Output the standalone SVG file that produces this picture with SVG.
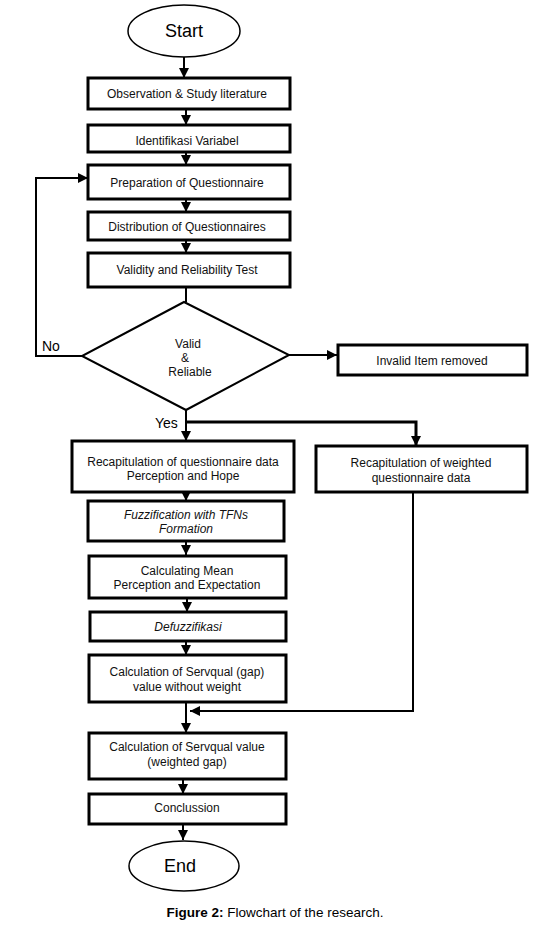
<svg xmlns="http://www.w3.org/2000/svg" width="560" height="927" viewBox="0 0 560 927">
<defs>
<marker id="ah" markerUnits="userSpaceOnUse" markerWidth="11" markerHeight="11" refX="10" refY="5" orient="auto">
<path d="M0,0 L10,5 L0,10 z" fill="#000"/>
</marker>
<style>
.box{fill:#fff;stroke:#000;stroke-width:3}
.term{fill:#fff;stroke:#000;stroke-width:1.5}
.dia{fill:#fff;stroke:#000;stroke-width:2}
.t{font-family:"Liberation Sans",Arial,sans-serif;font-size:12px;fill:#111;text-anchor:middle}
.i{font-style:italic}
.big{font-family:"Liberation Sans",Arial,sans-serif;font-size:18px;fill:#000;text-anchor:middle}
.lbl{font-family:"Liberation Sans",Arial,sans-serif;font-size:14px;fill:#000}
.c{fill:none;stroke:#000;stroke-width:2}
.ca{fill:none;stroke:#000;stroke-width:2;marker-end:url(#ah)}
.thick{stroke-width:3}
</style>
</defs>
<rect width="560" height="927" fill="#fff"/>
<g id="connectors">
<line class="ca" x1="184" y1="57" x2="184" y2="78"/>
<line class="ca" x1="186" y1="109" x2="186" y2="125"/>
<line class="ca" x1="186" y1="152" x2="186" y2="165"/>
<line class="ca" x1="186" y1="199" x2="186" y2="212"/>
<line class="ca" x1="186" y1="240" x2="186" y2="253"/>
<line class="c" x1="186" y1="287" x2="186" y2="302"/>
<line class="ca" x1="289" y1="355" x2="337" y2="355"/>
<polyline class="ca" points="82,356 36,356 36,178 88,178"/>
<polyline class="ca" points="186,410 186,441"/>
<polyline class="ca thick" points="186,422 416,422 416,446"/>
<line class="ca" x1="186" y1="492" x2="186" y2="501"/>
<line class="ca" x1="186" y1="541" x2="186" y2="555"/>
<line class="ca" x1="187" y1="598" x2="187" y2="612"/>
<line class="ca" x1="186" y1="641" x2="186" y2="655"/>
<line class="ca" x1="186" y1="702" x2="186" y2="733"/>
<polyline class="ca" points="413,492 413,711 190,711"/>
<line class="ca" x1="183" y1="779" x2="183" y2="794"/>
<line class="ca" x1="183" y1="824" x2="183" y2="840"/>
</g>
<g id="start">
<ellipse class="term" cx="184" cy="31" rx="56" ry="26"/>
<text class="big" x="184" y="37">Start</text>
</g>
<g id="observation">
<rect class="box" x="88" y="78" width="202" height="31"/>
<text class="t" x="187" y="98">Observation &amp; Study literature</text>
</g>
<g id="identifikasi">
<rect class="box" x="88" y="125" width="202" height="27"/>
<text class="t" x="187" y="145">Identifikasi Variabel</text>
</g>
<g id="preparation">
<rect class="box" x="88" y="165" width="202" height="34"/>
<text class="t" x="187" y="187">Preparation of Questionnaire</text>
</g>
<g id="distribution">
<rect class="box" x="88" y="212" width="202" height="28"/>
<text class="t" x="187" y="231">Distribution of Questionnaires</text>
</g>
<g id="validity">
<rect class="box" x="88" y="253" width="202" height="34"/>
<text class="t" x="187" y="274">Validity and Reliability Test</text>
</g>
<g id="decision">
<polygon class="dia" points="184,302 289,355 186,410 82,356"/>
<text class="t" x="188" y="348">Valid</text>
<text class="t" x="185" y="362">&amp;</text>
<text class="t" x="190" y="376">Reliable</text>
</g>
<g id="labels">
<text class="lbl" x="42" y="351">No</text>
<text class="lbl" x="155" y="428">Yes</text>
</g>
<g id="invalid">
<rect class="box" x="338" y="345" width="189" height="30"/>
<text class="t" x="432" y="365">Invalid Item removed</text>
</g>
<g id="recap">
<rect class="box" x="72" y="441" width="222" height="51"/>
<text class="t" x="183" y="466">Recapitulation of questionnaire data</text>
<text class="t" x="183" y="480">Perception and Hope</text>
</g>
<g id="recapweighted">
<rect class="box" x="316" y="446" width="211" height="46"/>
<text class="t" x="421" y="467">Recapitulation of weighted</text>
<text class="t" x="421" y="482">questionnaire data</text>
</g>
<g id="fuzzification">
<rect class="box" x="88" y="501" width="196" height="40"/>
<text class="t i" x="186" y="519">Fuzzification with TFNs</text>
<text class="t i" x="186" y="533">Formation</text>
</g>
<g id="mean">
<rect class="box" x="89" y="556" width="197" height="42"/>
<text class="t" x="187" y="575">Calculating Mean</text>
<text class="t" x="187" y="589">Perception and Expectation</text>
</g>
<g id="defuzz">
<rect class="box" x="90" y="612" width="196" height="29"/>
<text class="t i" x="188" y="631">Defuzzifikasi</text>
</g>
<g id="gap">
<rect class="box" x="89" y="655" width="197" height="47"/>
<text class="t" x="187" y="676">Calculation of Servqual (gap)</text>
<text class="t" x="187" y="691">value without weight</text>
</g>
<g id="weighted">
<rect class="box" x="89" y="733" width="197" height="46"/>
<text class="t" x="187" y="751">Calculation of Servqual value</text>
<text class="t" x="187" y="766">(weighted gap)</text>
</g>
<g id="conclusion">
<rect class="box" x="89" y="794" width="197" height="30"/>
<text class="t" x="187" y="812">Conclussion</text>
</g>
<g id="end">
<ellipse class="term" cx="184" cy="866" rx="55" ry="25"/>
<text class="big" x="180" y="872">End</text>
</g>
<g id="caption">
<text x="275" y="917" font-family="'Liberation Sans',Arial,sans-serif" font-size="13.5" text-anchor="middle" fill="#000"><tspan font-weight="bold">Figure 2:</tspan> Flowchart of the research.</text>
</g>
</svg>
